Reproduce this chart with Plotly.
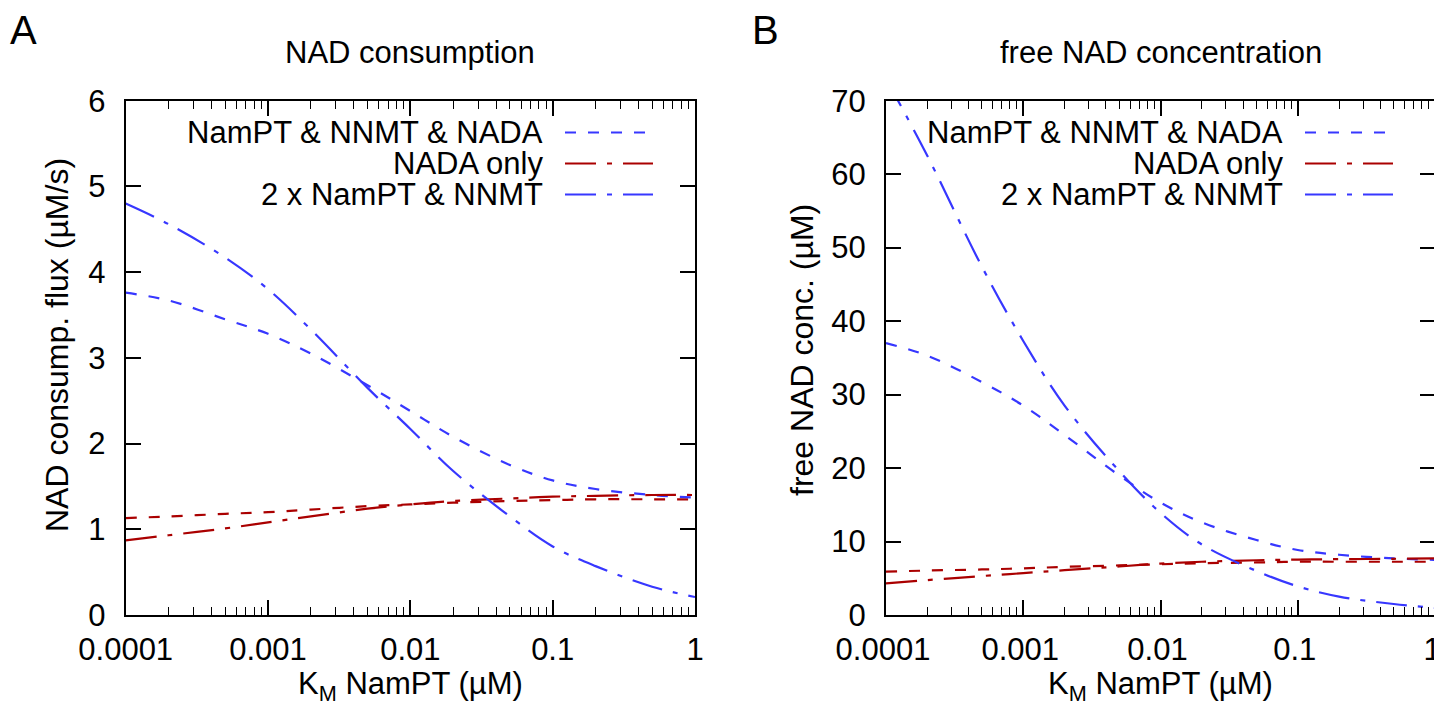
import plotly.graph_objects as go

# ---------------- data ----------------
km = [1e-4, 2e-4, 5e-4, 1e-3, 2e-3, 5e-3, 1e-2, 2e-2, 5e-2, 0.1, 0.2, 0.5, 1.0]

# Panel A: NAD consumption flux (uM/s)
flux_all = [3.76, 3.67, 3.45, 3.28, 3.05, 2.68, 2.38, 2.08, 1.75, 1.57, 1.47, 1.40, 1.37]
flux_nada = [0.87, 0.93, 1.01, 1.08, 1.15, 1.24, 1.29, 1.33, 1.36, 1.38, 1.39, 1.40, 1.40]
flux_nada_b = [1.13, 1.15, 1.18, 1.20, 1.23, 1.27, 1.29, 1.31, 1.33, 1.34, 1.35, 1.35, 1.35]
flux_2x = [4.80, 4.56, 4.17, 3.80, 3.33, 2.65, 2.17, 1.68, 1.15, 0.80, 0.57, 0.33, 0.21]

# Panel B: free NAD concentration (uM)
conc_all = [37.0, 35.3, 31.7, 28.5, 24.5, 19.0, 15.3, 12.6, 10.2, 8.85, 8.2, 7.7, 7.5]
conc_nada = [4.3, 4.75, 5.3, 5.7, 6.1, 6.6, 7.0, 7.25, 7.45, 7.55, 7.6, 7.65, 7.7]
conc_nada_b = [5.9, 6.05, 6.2, 6.35, 6.55, 6.75, 6.9, 7.05, 7.15, 7.25, 7.25, 7.25, 7.25]
conc_2x = [73.0, 62.5, 47.4, 37.3, 28.5, 19.6, 13.9, 9.6, 6.0, 3.9, 2.5, 1.5, 0.97]

series_names = ["NamPT & NNMT & NADA", "NADA only", "2 x NamPT & NNMT"]
x_ticks = [1e-4, 1e-3, 1e-2, 0.1, 1]
x_ticktext = ["0.0001", "0.001", "0.01", "0.1", "1"]

# ---------------- style ----------------
OFF = 8  # default page body margin
W, H = 1442 - OFF, 709 - OFF
BLUE = "#3737ff"
RED = "#aa0000"
DASH = "11px,12px"
DASHDOT = "31px,11px,5px,11px"
FONT = "Liberation Sans, Arial, sans-serif"
FS = 31
LW = 2.2


def px_x(p):
    return (p - OFF) / W


def px_y(p):
    return 1 - (p - OFF) / H


fig = go.Figure()

panels = [
    ("x", "y", flux_all, flux_nada, flux_nada_b, flux_2x),
    ("x2", "y2", conc_all, conc_nada, conc_nada_b, conc_2x),
]
for xa, ya, s_all, s_nada, s_nada_b, s_2x in panels:
    fig.add_trace(go.Scatter(x=km, y=s_nada_b, mode="lines", xaxis=xa, yaxis=ya,
                             line=dict(color=RED, width=LW, dash=DASH, shape="spline"),
                             showlegend=False))
    fig.add_trace(go.Scatter(x=km, y=s_all, mode="lines", xaxis=xa, yaxis=ya,
                             name=series_names[0],
                             line=dict(color=BLUE, width=LW, dash=DASH, shape="spline"),
                             showlegend=False))
    fig.add_trace(go.Scatter(x=km, y=s_nada, mode="lines", xaxis=xa, yaxis=ya,
                             name=series_names[1],
                             line=dict(color=RED, width=LW, dash=DASHDOT, shape="spline"),
                             showlegend=False))
    fig.add_trace(go.Scatter(x=km, y=s_2x, mode="lines", xaxis=xa, yaxis=ya,
                             name=series_names[2],
                             line=dict(color=BLUE, width=LW, dash=DASHDOT, shape="spline"),
                             showlegend=False))

PLOT_TOP, PLOT_BOT = 100.7, 615
A_L, A_R = 125.7, 695
B_L, B_R = 886, 1435

common_x = dict(type="log", range=[-4, 0], tickvals=x_ticks, ticktext=x_ticktext,
                ticks="inside", ticklen=15, tickwidth=1.5, tickcolor="black",
                showline=True, linewidth=2, linecolor="black", mirror="ticks",
                showgrid=False, zeroline=False, automargin=False,
                ticklabelstandoff=6, ticklabeloverflow="allow",
                tickfont=dict(family=FONT, size=FS, color="black"),
                minor=dict(ticks="inside", ticklen=8, tickwidth=1.2, tickcolor="black",
                           dtick="D1", showgrid=False))
common_y = dict(ticks="inside", ticklen=15, tickwidth=1.5, tickcolor="black",
                showline=True, linewidth=2, linecolor="black", mirror="ticks",
                showgrid=False, zeroline=False, automargin=False,
                ticklabelstandoff=12,
                tickfont=dict(family=FONT, size=FS, color="black"))

ydom = [px_y(PLOT_BOT), px_y(PLOT_TOP)]
fig.update_layout(
    template="none",
    width=W, height=H, autosize=False,
    margin=dict(l=0, r=0, t=0, b=0, pad=0),
    paper_bgcolor="white", plot_bgcolor="white",
    showlegend=False,
    xaxis=dict(common_x, domain=[px_x(A_L), px_x(A_R)], anchor="y"),
    yaxis=dict(common_y, domain=ydom, range=[0, 6], dtick=1, anchor="x"),
    xaxis2=dict(common_x, domain=[px_x(B_L), px_x(B_R)], anchor="y2", ticklabelshift=-3),
    yaxis2=dict(common_y, domain=ydom, range=[0, 70], dtick=10, anchor="x2"),
)

ann = []


def text(x, y, s, size=FS, xanchor="center", angle=0):
    ann.append(dict(x=px_x(x), y=px_y(y), xref="paper", yref="paper", text=s,
                    showarrow=False, xanchor=xanchor, yanchor="middle", textangle=angle,
                    font=dict(family=FONT, size=size, color="black")))


# panel letters & titles
text(23, 30, "A", size=40)
text(765, 30, "B", size=40)
text((A_L + A_R) / 2, 52, "NAD consumption")
text((B_L + B_R) / 2, 52, "free NAD concentration")
# axis titles
text((A_L + A_R) / 2, 686, "K<sub>M</sub> NamPT (µM)")
text((B_L + B_R) / 2, 686, "K<sub>M</sub> NamPT (µM)")
text(57, 345, "NAD consump. flux (µM/s)", size=32, angle=-90)
text(802, 350, "free NAD conc. (µM)", size=32, angle=-90)

# manual legends (text right, sample line to the right)
shapes = []
legend_rows = [(132.5, BLUE, DASH), (163.5, RED, DASHDOT), (194.5, BLUE, DASHDOT)]
for right in (A_R, B_R):
    txt_r = right - 150
    s0, s1 = right - 130, right - 42
    for (yy, col, dsh), nm in zip(legend_rows, series_names):
        text(txt_r, yy, nm, xanchor="right")
        shapes.append(dict(type="line", xref="paper", yref="paper",
                           x0=px_x(s0), x1=px_x(s1), y0=px_y(yy), y1=px_y(yy),
                           line=dict(color=col, width=LW, dash=dsh)))

fig.update_layout(annotations=ann, shapes=shapes)
fig.write_html("out.html")
